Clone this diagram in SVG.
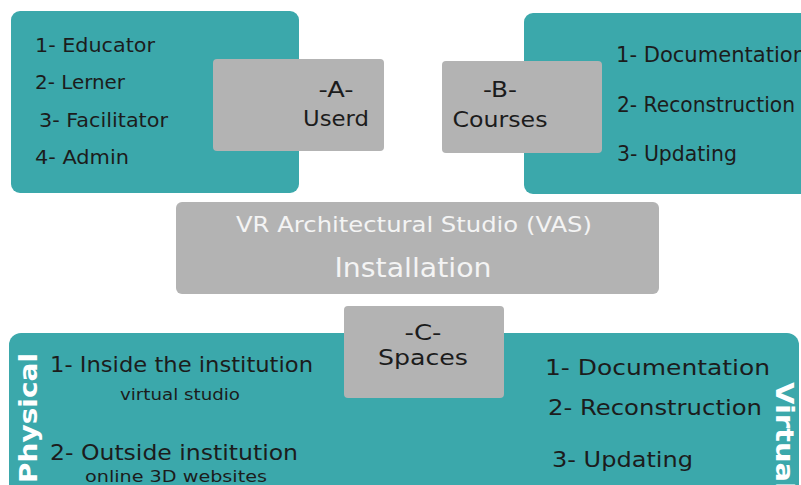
<svg xmlns="http://www.w3.org/2000/svg" width="801" height="485" viewBox="0 0 801 485">
<style>
.teal{fill:#3ba8ab}
.gray{fill:#b3b3b3}
text{font-family:"DejaVu Sans","Noto Sans",sans-serif;fill:#1c1c1c}
.l{font-size:20px}
.r{font-size:21px}
.h{font-size:22px}
.w{fill:#f4f4f4}
.side{font-size:25px;font-weight:bold;fill:#ffffff}
</style>
<rect width="801" height="485" fill="#ffffff"/>
<g id="users-list">
<rect class="teal" x="11" y="11" width="288" height="182" rx="9"/>
<text class="l" x="35" y="52" textLength="120" lengthAdjust="spacingAndGlyphs">1- Educator</text>
<text class="l" x="35" y="89" textLength="90" lengthAdjust="spacingAndGlyphs">2- Lerner</text>
<text class="l" x="39" y="127" textLength="129" lengthAdjust="spacingAndGlyphs">3- Facilitator</text>
<text class="l" x="35" y="164" textLength="94" lengthAdjust="spacingAndGlyphs">4- Admin</text>
</g>
<g id="courses-list">
<rect class="teal" x="524" y="13" width="300" height="181" rx="9"/>
<text class="r" x="616" y="62" textLength="190" lengthAdjust="spacingAndGlyphs">1- Documentation</text>
<text class="r" x="617" y="112" textLength="178" lengthAdjust="spacingAndGlyphs">2- Reconstruction</text>
<text class="r" x="617" y="161" textLength="120" lengthAdjust="spacingAndGlyphs">3- Updating</text>
</g>
<g id="spaces-list">
<rect class="teal" x="9" y="333" width="790" height="180" rx="12"/>
<text class="side" transform="translate(37,483) rotate(-90)" textLength="130" lengthAdjust="spacingAndGlyphs">Physical</text>
<text class="h" x="50" y="372" textLength="263" lengthAdjust="spacingAndGlyphs">1- Inside the institution</text>
<text x="120" y="400" font-size="16" textLength="120" lengthAdjust="spacingAndGlyphs">virtual studio</text>
<text class="h" x="50" y="460" textLength="248" lengthAdjust="spacingAndGlyphs">2- Outside institution</text>
<text x="85" y="482" font-size="16" textLength="182" lengthAdjust="spacingAndGlyphs">online 3D websites</text>
<text class="h" x="545" y="375" textLength="225" lengthAdjust="spacingAndGlyphs">1- Documentation</text>
<text class="h" x="548" y="415" textLength="214" lengthAdjust="spacingAndGlyphs">2- Reconstruction</text>
<text class="h" x="552" y="467" textLength="141" lengthAdjust="spacingAndGlyphs">3- Updating</text>
<text class="side" transform="translate(776,382) rotate(90)" textLength="110" lengthAdjust="spacingAndGlyphs">Virtual</text>
</g>
<g id="node-a">
<rect class="gray" x="213" y="59" width="171" height="92" rx="4"/>
<text class="h" x="336" y="97" text-anchor="middle" textLength="35" lengthAdjust="spacingAndGlyphs">-A-</text>
<text class="h" x="336" y="126" text-anchor="middle" textLength="66" lengthAdjust="spacingAndGlyphs">Userd</text>
</g>
<g id="node-b">
<rect class="gray" x="442" y="61" width="160" height="92" rx="4"/>
<text class="h" x="500" y="97" text-anchor="middle" textLength="34" lengthAdjust="spacingAndGlyphs">-B-</text>
<text class="h" x="500" y="127" text-anchor="middle" textLength="95" lengthAdjust="spacingAndGlyphs">Courses</text>
</g>
<g id="node-vas">
<rect class="gray" x="176" y="202" width="483" height="92" rx="6"/>
<text class="w" x="414" y="232" font-size="21" text-anchor="middle" textLength="356" lengthAdjust="spacingAndGlyphs">VR Architectural Studio (VAS)</text>
<text class="w" x="413" y="277" font-size="27" text-anchor="middle" textLength="157" lengthAdjust="spacingAndGlyphs">Installation</text>
</g>
<g id="node-c">
<rect class="gray" x="344" y="306" width="160" height="92" rx="4"/>
<text class="h" x="423" y="340" text-anchor="middle" textLength="37" lengthAdjust="spacingAndGlyphs">-C-</text>
<text class="h" x="423" y="365" text-anchor="middle" textLength="90" lengthAdjust="spacingAndGlyphs">Spaces</text>
</g>
<g id="connectors"></g>
</svg>
